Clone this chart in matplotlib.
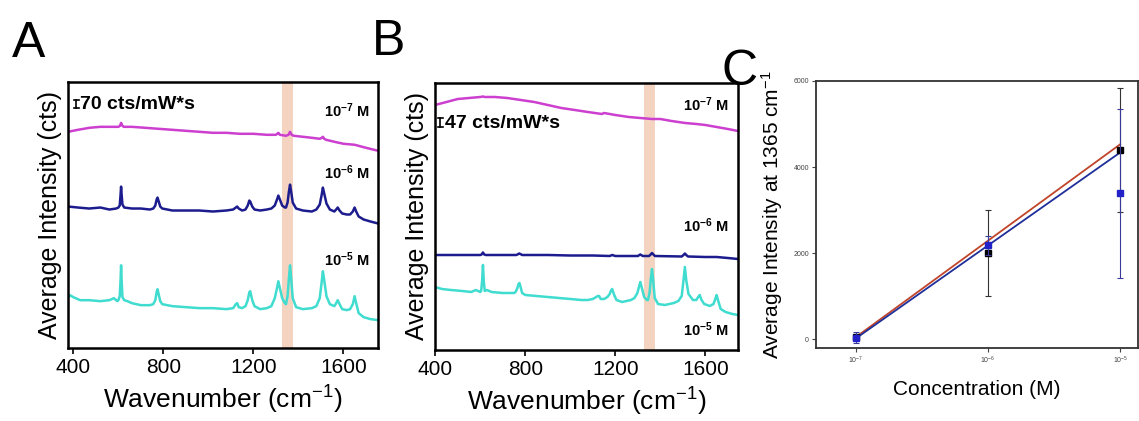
import matplotlib
matplotlib.use("Agg")
import matplotlib.pyplot as plt

plt.rcParams['font.family'] = ['Liberation Sans', 'DejaVu Sans']
plt.rcParams['mathtext.fontset'] = 'custom'
plt.rcParams['mathtext.rm'] = 'Liberation Sans'
plt.rcParams['mathtext.it'] = 'Liberation Sans'
plt.rcParams['mathtext.bf'] = 'Liberation Sans:bold'

# ---------------- Panel A data (offset spectra, arbitrary units) ----------------
a_top_wn = [376, 420, 470, 520, 570, 600, 607, 612, 618, 624, 660, 720, 780, 840, 900, 960, 1020,
            1080, 1140, 1200, 1260, 1300, 1306, 1311, 1318, 1345, 1356, 1363, 1370, 1380, 1420,
            1460, 1495, 1504, 1509, 1515, 1523, 1560, 1600, 1650, 1700, 1754]
a_top_int = [217, 219, 221, 222, 222, 222, 223, 226, 223, 222, 222, 221, 220, 219, 218, 217, 216,
             216, 215, 215, 214, 214, 215, 216, 214, 213, 214, 217, 214, 213, 212,
             211, 210, 211, 212, 210, 209, 207, 205, 204, 201, 198]

a_mid_wn = [376, 420, 470, 520, 560, 590, 600, 606, 610, 612, 614, 618, 626, 660, 700, 740,
            755, 764, 770, 774, 778, 786, 795, 840, 900, 960, 1020, 1080, 1110, 1122, 1128, 1135,
            1150, 1165, 1175, 1182, 1186, 1195, 1205, 1230, 1260, 1280, 1295, 1305, 1311, 1318,
            1328, 1340, 1345, 1352, 1358, 1363, 1368, 1375, 1390, 1420, 1460, 1480, 1495, 1503,
            1509, 1515, 1525, 1540, 1560, 1568, 1575, 1583, 1595, 1615, 1630, 1642, 1650, 1657,
            1668, 1690, 1720, 1754]
a_mid_int = [142, 141, 140, 141, 139, 140, 141, 143, 155, 162, 155, 144, 141, 140, 140, 139,
             140, 143, 149, 151, 148, 142, 140, 138, 138, 138, 137, 138, 139, 141, 142, 140,
             138, 139, 143, 148, 147, 142, 139, 138, 139, 140, 143, 149, 153, 149,
             143, 141, 141, 146, 157, 164, 157, 146, 140, 138, 137, 139, 144, 153,
             161, 155, 145, 139, 137, 139, 141, 138, 135, 134, 134, 137, 141, 137,
             132, 129, 127, 125]

a_low_wn = [376, 385, 400, 430, 470, 520, 560, 580, 595, 600, 606, 610, 612, 614, 618, 626, 640,
            660, 700, 740, 755, 764, 770, 774, 778, 786, 795, 840, 900, 960, 1020, 1080, 1110,
            1122, 1128, 1135, 1150, 1165, 1175, 1182, 1186, 1195, 1205, 1230, 1260, 1280, 1295,
            1305, 1311, 1318, 1328, 1340, 1345, 1352, 1358, 1363, 1368, 1375, 1390, 1420, 1460,
            1480, 1495, 1503, 1509, 1515, 1525, 1540, 1560, 1568, 1575, 1583, 1595, 1615, 1630,
            1642, 1650, 1657, 1668, 1690, 1720, 1754]
a_low_int = [50, 53, 51, 48, 48, 47, 48, 50, 47, 48, 52, 70, 83, 70, 51, 48, 47,
             45, 43, 43, 44, 48, 56, 59, 55, 47, 44, 42, 41, 40, 40, 39, 40,
             44, 45, 41, 40, 42, 48, 56, 57, 48, 42, 39, 40, 42, 50,
             60, 67, 60, 50, 45, 44, 52, 70, 83, 70, 50, 41, 39, 40,
             42, 50, 65, 77, 68, 52, 44, 42, 45, 48, 44, 39, 38, 39,
             44, 52, 45, 35, 31, 29, 28]

# ---------------- Panel B data ----------------
b_top_wn = [399, 450, 500, 550, 600, 612, 620, 665, 720, 780, 840, 900, 960, 1020, 1078, 1140,
            1150, 1200, 1260, 1311, 1363, 1400, 1450, 1510, 1560, 1600, 1650, 1700, 1745]
b_top_int = [245, 248, 251, 252, 253, 253.5, 253, 253, 252, 250, 248, 245, 242, 240, 238, 236,
             237, 235, 233, 232, 231, 231, 229, 227, 226, 225, 223, 221, 219]

b_mid_wn = [399, 500, 600, 606, 612, 618, 624, 760, 768, 773, 780, 786, 900, 1000, 1100, 1175,
            1186, 1200, 1300, 1311, 1322, 1350, 1357, 1363, 1369, 1376, 1495, 1503, 1509, 1515,
            1523, 1600, 1650, 1700, 1745]
b_mid_int = [95, 95, 95, 95.5, 97.5, 95.5, 95, 95, 95.8, 96.5, 95.8, 95, 95, 94.5, 94.5, 94,
             95, 94, 94, 95.5, 94, 94, 95.5, 97, 95.5, 94, 93.5, 95, 96.5, 95,
             93.5, 93, 93, 92, 91]

b_low_wn = [399, 430, 470, 520, 560, 580, 600, 604, 608, 612, 616, 620, 630, 650, 700, 750,
            757, 765, 770, 774, 778, 786, 800, 850, 900, 950, 1000, 1050, 1078, 1100, 1115,
            1122, 1128, 1135, 1150, 1165, 1175, 1182, 1186, 1195, 1205, 1230, 1270, 1285, 1298,
            1305, 1311, 1318, 1328, 1340, 1345, 1352, 1358, 1363, 1368, 1375, 1390, 1420, 1460,
            1480, 1495, 1503, 1509, 1515, 1525, 1545, 1560, 1568, 1575, 1583, 1595, 1620, 1636,
            1644, 1650, 1656, 1668, 1690, 1720, 1745]
b_low_int = [63, 61, 60, 59, 58, 60, 58, 59, 68, 85, 68, 59, 60, 58, 57, 57,
             58, 62, 66, 67, 64, 57, 55, 54, 53, 52, 51, 50, 50, 51, 53,
             54, 54, 51, 51, 53, 56, 60, 61, 55, 50, 48, 50, 52, 57,
             63, 68, 62, 53, 50, 50, 57, 72, 81, 70, 52, 46, 45, 47,
             49, 54, 70, 83, 70, 56, 50, 50, 53, 55, 50, 46, 44, 46,
             51, 55, 50, 41, 38, 36, 35]

conc_labels = ["10$^{\\mathbf{-7}}$ M", "10$^{\\mathbf{-6}}$ M", "10$^{\\mathbf{-5}}$ M"]
band_lo, band_hi = 1328, 1378

# ---------------- Panel C data ----------------
conc = [1e-7, 1e-6, 1e-5]
black_mean = [50, 2000, 4395]
black_err = [60, 1000, 1440]
blue_mean = [40, 2190, 3395]
blue_err = [120, 220, 1960]
fit_x = [1e-7, 1e-5]
red_fit = [50, 4530]
blue_fit = [20, 4340]

MAG = '#cc3fcf'
NAVY = '#1c1c8e'
CYAN = '#3fdccf'
BAND = '#f3cdb6'

fig = plt.figure(figsize=(11.39, 4.21), dpi=100)


def spectra_axes(pos, xlim, traces, scale_txt, scale_pos, lab_pos):
    ax = fig.add_axes(pos)
    ax.axvspan(band_lo, band_hi, color=BAND, alpha=0.85, lw=0, zorder=0)
    for (wn, y, c) in traces:
        ax.plot(wn, y, color=c, lw=1.8, zorder=2, solid_joinstyle='round')
    ax.set_xlim(*xlim)
    ax.set_ylim(0, 267)
    ax.set_yticks([])
    ax.set_xticks([400, 800, 1200, 1600])
    ax.tick_params(axis='x', labelsize=15, length=4, width=1.2, direction='out', pad=3)
    for s in ax.spines.values():
        s.set_linewidth(1.8)
        s.set_color('black')
    ax.set_xlabel("Wavenumber (cm$^{-1}$)", fontsize=19, labelpad=5)
    ax.set_ylabel("Average Intensity (cts)", fontsize=18, labelpad=4)
    # scale bar
    sx, sy0, sy1, tx, ty = scale_pos
    ax.plot([sx, sx], [sy0, sy1], transform=ax.transAxes, color='black', lw=1.2)
    for yy in (sy0, sy1):
        ax.plot([sx - 0.008, sx + 0.008], [yy, yy], transform=ax.transAxes, color='black', lw=1.2)
    ax.text(tx, ty, scale_txt, transform=ax.transAxes, fontsize=14, fontweight='bold',
            va='center', ha='left')
    for lbl, (lx, ly) in zip(conc_labels, lab_pos):
        ax.text(lx, ly, lbl, transform=ax.transAxes, fontsize=10.5, fontweight='bold',
                ha='center', va='center')
    return ax


axA = spectra_axes([68/1139, 1 - 348/421, 310/1139, 266/421], (376, 1754),
                   [(a_top_wn, a_top_int, MAG), (a_mid_wn, a_mid_int, NAVY), (a_low_wn, a_low_int, CYAN)],
                   "70 cts/mW*s", (0.026, 0.902, 0.932, 0.040, 0.917),
                   [(0.90, 0.891), (0.90, 0.658), (0.90, 0.331)])

axB = spectra_axes([435/1139, 1 - 350/421, 303/1139, 267/421], (399, 1745),
                   [(b_top_wn, b_top_int, MAG), (b_mid_wn, b_mid_int, NAVY), (b_low_wn, b_low_int, CYAN)],
                   "47 cts/mW*s", (0.017, 0.835, 0.869, 0.034, 0.850),
                   [(0.894, 0.918), (0.894, 0.464), (0.894, 0.075)])

# ---------------- Panel C ----------------
axC = fig.add_axes([816/1139, 1 - 348/421, 322/1139, 267/421])
axC.plot(fit_x, red_fit, color='#c0452a', lw=1.3, zorder=2)
axC.plot(fit_x, blue_fit, color='#1f2f9a', lw=1.3, zorder=3)
axC.errorbar(conc, black_mean, yerr=black_err, fmt='s', color='black', ms=4.5,
             ecolor='#333333', elinewidth=0.8, capsize=2.5, capthick=0.8, zorder=4)
axC.errorbar(conc, blue_mean, yerr=blue_err, fmt='s', color='#2222c8', ms=4.5,
             ecolor='#3a3a9a', elinewidth=0.8, capsize=2.5, capthick=0.8, zorder=5)
axC.set_xscale('log')
axC.set_xlim(10**-7.30, 10**-4.865)
axC.set_ylim(-200, 6000)
axC.set_yticks([0, 2000, 4000, 6000])
axC.set_xticks(conc)
axC.minorticks_off()
axC.tick_params(labelsize=5, colors='#444444', length=3, width=0.8, pad=2)
for s in axC.spines.values():
    s.set_linewidth(1.3)
    s.set_color('#333333')
axC.set_xlabel("Concentration (M)", fontsize=15, labelpad=10)
axC.set_ylabel("Average Intensity at 1365 cm$^{-1}$", fontsize=15, labelpad=6)

# panel letters
fig.text(12/1139, 1 - 57/421, "A", fontsize=36, ha='left', va='baseline')
fig.text(372/1139, 1 - 55/421, "B", fontsize=36, ha='left', va='baseline')
fig.text(722/1139, 1 - 85/421, "C", fontsize=36, ha='left', va='baseline')

fig.savefig("out.png", dpi=100, facecolor='white')
